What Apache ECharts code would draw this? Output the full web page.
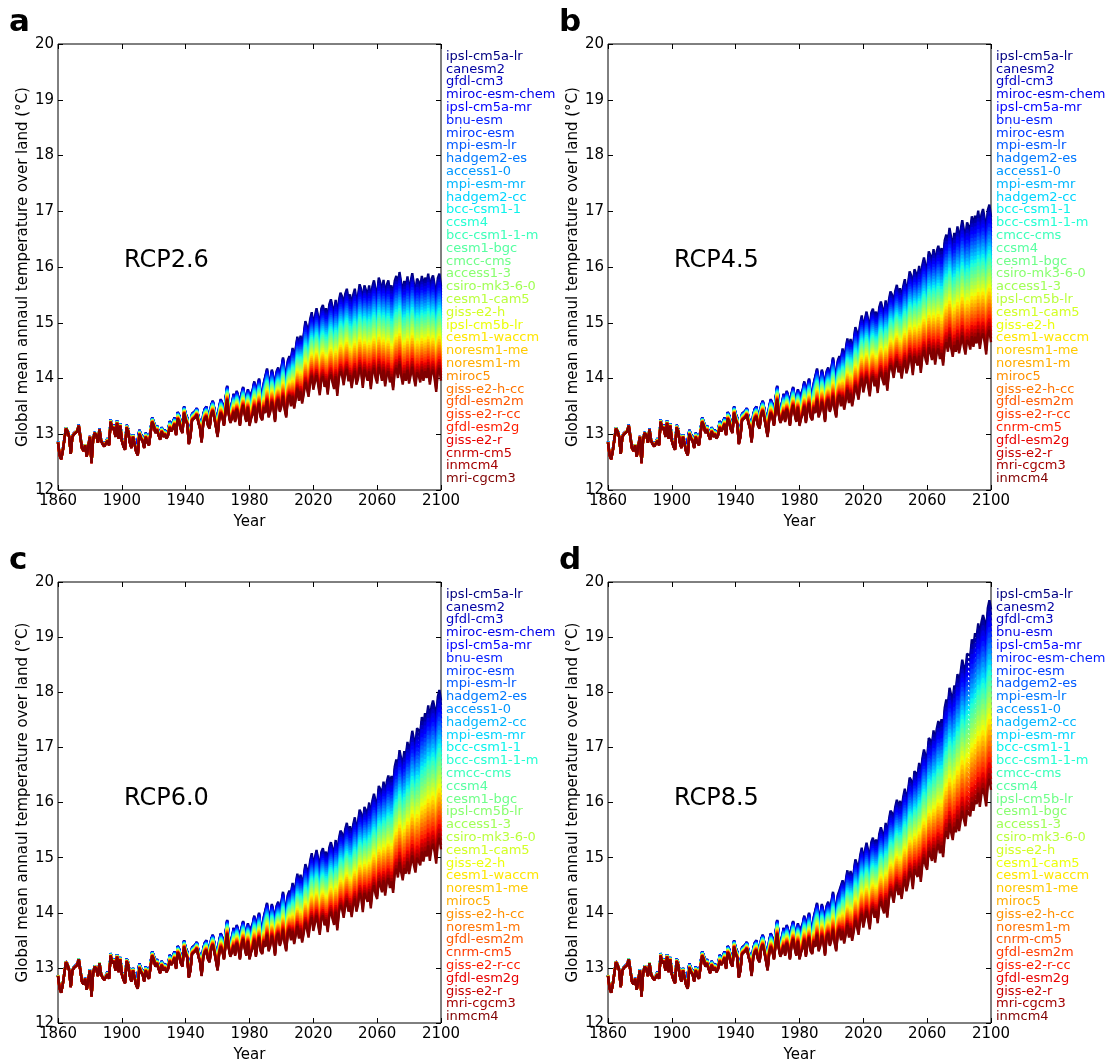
<!DOCTYPE html>
<html>
<head>
<meta charset="utf-8">
<script src="https://cdn.jsdelivr.net/npm/echarts@6/dist/echarts.min.js"></script>
<style>
  html, body { margin: 0; padding: 0; background: #fff; }
  #chart { width: 1112px; height: 1064px; }
</style>
</head>
<body>
<div id="chart"></div>
<script>
// years on the x axis
const years = [];
for (let y = 1860; y <= 2100; y++) years.push(y);

// historical run 1860-2005: coolest and warmest member of the ensemble
const histLow = [
  12.85,12.62,12.55,12.70,12.72,13.10,13.05,12.95,12.65,12.95,
  13.00,12.98,13.05,13.15,12.95,12.75,12.70,12.80,12.60,12.78,
  12.95,12.48,12.90,13.02,12.98,12.85,13.08,12.88,12.82,12.78,
  12.75,12.88,12.80,13.22,13.08,13.12,12.95,13.20,12.92,13.15,
  12.88,12.78,12.72,13.12,13.05,12.85,12.75,12.95,12.98,12.68,
  12.62,13.00,12.92,12.88,12.75,12.95,12.85,12.80,12.78,13.22,
  13.15,13.02,13.08,12.98,12.90,13.05,12.95,13.00,12.92,12.98,
  13.12,13.05,13.10,13.18,12.98,13.28,13.22,13.08,13.02,13.38,
  13.25,13.18,12.82,12.95,13.25,13.28,13.30,13.35,13.20,13.10,
  12.85,13.18,13.28,13.32,13.15,13.10,13.35,13.42,13.28,13.12,
  12.95,13.25,13.38,13.30,13.15,13.40,13.62,13.35,13.20,13.28,
  13.40,13.22,13.45,13.35,13.15,13.40,13.52,13.35,13.22,13.48,
  13.15,13.28,13.35,13.50,13.20,13.42,13.55,13.30,13.25,13.48,
  13.38,13.60,13.30,13.40,13.58,13.45,13.22,13.55,13.62,13.40,
  13.50,13.68,13.45,13.30,13.62,13.70
];
const histHigh = [
  12.87,12.64,12.57,12.72,12.74,13.12,13.07,12.97,12.67,12.97,
  13.02,13.00,13.07,13.17,12.97,12.77,12.72,12.82,12.62,12.80,
  12.97,12.50,12.92,13.04,13.00,12.87,13.10,12.90,12.84,12.80,
  12.80,12.93,12.85,13.27,13.13,13.17,13.00,13.25,12.97,13.20,
  12.93,12.83,12.77,13.17,13.10,12.90,12.80,13.00,13.03,12.73,
  12.70,13.08,13.00,12.96,12.83,13.03,12.93,12.88,12.86,13.30,
  13.23,13.10,13.16,13.06,12.98,13.13,13.03,13.08,13.00,13.06,
  13.24,13.17,13.22,13.30,13.10,13.40,13.34,13.20,13.14,13.50,
  13.37,13.30,12.94,13.07,13.37,13.40,13.42,13.47,13.32,13.22,
  13.03,13.36,13.46,13.50,13.33,13.28,13.53,13.60,13.46,13.30,
  13.20,13.50,13.63,13.55,13.40,13.65,13.87,13.60,13.45,13.53,
  13.73,13.55,13.78,13.68,13.48,13.73,13.85,13.68,13.55,13.81,
  13.60,13.73,13.80,13.95,13.65,13.87,14.00,13.75,13.70,13.93,
  13.96,14.18,13.88,13.98,14.16,14.03,13.80,14.13,14.20,13.98,
  14.20,14.38,14.15,14.00,14.32,14.40
];

// scenario runs 2006-2100
const rcp26Low = [
  13.50,13.68,13.46,13.64,13.82,13.60,13.77,13.55,13.72,13.93,
  13.82,13.67,13.93,14.05,13.80,13.94,14.06,13.89,13.70,13.98,
  14.04,13.85,13.96,13.71,14.00,14.07,13.93,13.81,14.04,13.69,
  14.00,14.13,14.06,13.88,14.09,14.17,13.95,14.06,13.83,14.03,
  14.14,13.89,13.99,14.20,14.10,13.83,14.16,14.06,13.96,14.13,
  13.81,14.09,14.19,14.01,13.91,14.21,14.11,13.96,14.16,13.86,
  14.06,14.13,13.93,14.03,13.79,14.11,14.19,14.01,14.26,14.06,
  13.89,14.09,13.96,14.16,13.91,14.06,14.21,14.01,13.86,14.11,
  14.06,13.93,14.16,13.96,14.13,14.01,14.19,13.89,14.09,14.16,
  13.99,13.76,14.11,14.19,13.96
];
const rcp26High = [
  14.35,14.55,14.35,14.55,14.75,14.56,14.77,14.58,14.79,15.03,
  14.93,14.79,15.06,15.19,14.95,15.11,15.26,15.11,14.94,15.25,
  15.32,15.14,15.26,15.03,15.33,15.42,15.28,15.18,15.41,15.08,
  15.39,15.54,15.47,15.31,15.52,15.61,15.40,15.51,15.29,15.50,
  15.61,15.37,15.48,15.69,15.60,15.33,15.67,15.58,15.49,15.67,
  15.36,15.65,15.76,15.59,15.50,15.81,15.71,15.57,15.77,15.48,
  15.68,15.76,15.56,15.67,15.43,15.75,15.84,15.66,15.91,15.72,
  15.55,15.75,15.63,15.83,15.58,15.74,15.89,15.69,15.54,15.79,
  15.74,15.61,15.84,15.64,15.81,15.70,15.88,15.58,15.78,15.85,
  15.68,15.45,15.80,15.88,15.65
];
const rcp45Low = [
  13.50,13.67,13.44,13.61,13.79,13.56,13.73,13.50,13.67,13.87,
  13.76,13.62,13.88,14.00,13.75,13.90,14.03,13.87,13.68,13.98,
  14.04,13.86,13.97,13.74,14.03,14.12,13.98,13.88,14.11,13.78,
  14.09,14.24,14.17,14.01,14.22,14.31,14.11,14.22,14.00,14.21,
  14.33,14.09,14.20,14.41,14.33,14.06,14.40,14.31,14.23,14.41,
  14.10,14.39,14.51,14.34,14.25,14.56,14.47,14.33,14.54,14.25,
  14.46,14.54,14.35,14.46,14.23,14.56,14.65,14.48,14.74,14.55,
  14.39,14.60,14.48,14.69,14.45,14.61,14.77,14.57,14.43,14.69,
  14.65,14.52,14.76,14.57,14.75,14.63,14.82,14.53,14.74,14.81,
  14.65,14.43,14.79,14.87,14.65
];
const rcp45High = [
  14.35,14.54,14.34,14.53,14.72,14.51,14.71,14.50,14.69,14.92,
  14.83,14.70,14.98,15.13,14.90,15.06,15.20,15.05,14.87,15.18,
  15.25,15.08,15.20,14.98,15.28,15.38,15.25,15.16,15.40,15.08,
  15.40,15.56,15.50,15.35,15.57,15.68,15.49,15.62,15.42,15.65,
  15.78,15.56,15.69,15.92,15.85,15.60,15.96,15.89,15.82,16.02,
  15.73,16.04,16.17,16.02,15.95,16.28,16.21,16.09,16.32,16.05,
  16.28,16.38,16.21,16.34,16.13,16.48,16.58,16.43,16.70,16.53,
  16.38,16.61,16.50,16.73,16.50,16.67,16.84,16.66,16.53,16.80,
  16.77,16.66,16.91,16.73,16.92,16.82,17.01,16.73,16.94,17.04,
  16.87,16.66,17.02,17.12,16.90
];
const rcp60Low = [
  13.50,13.67,13.43,13.60,13.76,13.53,13.69,13.46,13.63,13.82,
  13.71,13.55,13.81,13.92,13.67,13.81,13.95,13.78,13.60,13.89,
  13.95,13.77,13.88,13.65,13.94,14.02,13.89,13.78,14.02,13.68,
  13.99,14.14,14.07,13.91,14.12,14.22,14.02,14.13,13.92,14.14,
  14.26,14.02,14.14,14.36,14.28,14.01,14.36,14.28,14.20,14.38,
  14.08,14.38,14.50,14.33,14.25,14.57,14.50,14.37,14.59,14.31,
  14.54,14.63,14.45,14.57,14.36,14.70,14.80,14.64,14.92,14.74,
  14.59,14.81,14.71,14.93,14.70,14.87,15.04,14.86,14.73,15.00,
  14.97,14.86,15.11,14.93,15.12,15.02,15.22,14.94,15.16,15.25,
  15.10,14.89,15.26,15.36,15.15
];
const rcp60High = [
  14.35,14.54,14.33,14.52,14.71,14.50,14.69,14.48,14.66,14.88,
  14.79,14.66,14.94,15.08,14.85,15.00,15.14,14.98,14.80,15.10,
  15.17,14.99,15.11,14.88,15.18,15.28,15.16,15.07,15.32,15.00,
  15.33,15.49,15.44,15.29,15.52,15.63,15.44,15.57,15.37,15.60,
  15.73,15.51,15.64,15.87,15.80,15.56,15.92,15.86,15.79,16.00,
  15.71,16.03,16.16,16.02,15.95,16.30,16.24,16.14,16.38,16.13,
  16.37,16.49,16.33,16.48,16.28,16.65,16.78,16.65,16.95,16.80,
  16.68,16.93,16.85,17.10,16.90,17.10,17.30,17.15,17.05,17.35,
  17.35,17.27,17.55,17.40,17.62,17.54,17.76,17.50,17.74,17.85,
  17.72,17.53,17.92,18.04,17.85
];
const rcp85Low = [
  13.50,13.67,13.44,13.61,13.78,13.55,13.72,13.49,13.66,13.86,
  13.75,13.60,13.86,13.98,13.73,13.89,14.03,13.88,13.70,14.01,
  14.08,13.91,14.03,13.81,14.11,14.21,14.08,13.99,14.23,13.91,
  14.23,14.39,14.33,14.18,14.40,14.51,14.32,14.45,14.25,14.48,
  14.61,14.39,14.52,14.75,14.68,14.43,14.79,14.72,14.65,14.85,
  14.56,14.87,15.00,14.85,14.78,15.12,15.05,14.94,15.17,14.91,
  15.14,15.25,15.08,15.22,15.01,15.37,15.48,15.34,15.62,15.46,
  15.32,15.56,15.46,15.70,15.48,15.67,15.85,15.69,15.57,15.86,
  15.84,15.75,16.01,15.85,16.05,15.97,16.18,15.92,16.15,16.26,
  16.12,15.93,16.31,16.43,16.23
];
const rcp85High = [
  14.40,14.59,14.39,14.58,14.77,14.56,14.76,14.55,14.74,14.97,
  14.88,14.75,15.03,15.18,14.95,15.12,15.27,15.13,14.96,15.28,
  15.36,15.20,15.33,15.12,15.43,15.55,15.44,15.37,15.63,15.33,
  15.67,15.85,15.81,15.68,15.92,16.05,15.88,16.03,15.85,16.10,
  16.25,16.05,16.20,16.45,16.40,16.18,16.57,16.53,16.49,16.72,
  16.46,16.80,16.96,16.84,16.80,17.17,17.13,17.05,17.31,17.08,
  17.34,17.48,17.34,17.51,17.33,17.72,17.87,17.76,18.08,17.95,
  17.85,18.12,18.06,18.33,18.15,18.37,18.59,18.46,18.38,18.70,
  18.72,18.66,18.96,18.83,19.07,19.01,19.25,19.01,19.27,19.40,
  19.29,19.12,19.53,19.67,19.50
];

// models, warmest first (legend order)
const modelsA = ['ipsl-cm5a-lr','canesm2','gfdl-cm3','miroc-esm-chem','ipsl-cm5a-mr','bnu-esm','miroc-esm','mpi-esm-lr','hadgem2-es','access1-0','mpi-esm-mr','hadgem2-cc','bcc-csm1-1','ccsm4','bcc-csm1-1-m','cesm1-bgc','cmcc-cms','access1-3','csiro-mk3-6-0','cesm1-cam5','giss-e2-h','ipsl-cm5b-lr','cesm1-waccm','noresm1-me','noresm1-m','miroc5','giss-e2-h-cc','gfdl-esm2m','giss-e2-r-cc','gfdl-esm2g','giss-e2-r','cnrm-cm5','inmcm4','mri-cgcm3'];
const modelsB = ['ipsl-cm5a-lr','canesm2','gfdl-cm3','miroc-esm-chem','ipsl-cm5a-mr','bnu-esm','miroc-esm','mpi-esm-lr','hadgem2-es','access1-0','mpi-esm-mr','hadgem2-cc','bcc-csm1-1','bcc-csm1-1-m','cmcc-cms','ccsm4','cesm1-bgc','csiro-mk3-6-0','access1-3','ipsl-cm5b-lr','cesm1-cam5','giss-e2-h','cesm1-waccm','noresm1-me','noresm1-m','miroc5','giss-e2-h-cc','gfdl-esm2m','giss-e2-r-cc','cnrm-cm5','gfdl-esm2g','giss-e2-r','mri-cgcm3','inmcm4'];
const modelsC = ['ipsl-cm5a-lr','canesm2','gfdl-cm3','miroc-esm-chem','ipsl-cm5a-mr','bnu-esm','miroc-esm','mpi-esm-lr','hadgem2-es','access1-0','hadgem2-cc','mpi-esm-mr','bcc-csm1-1','bcc-csm1-1-m','cmcc-cms','ccsm4','cesm1-bgc','ipsl-cm5b-lr','access1-3','csiro-mk3-6-0','cesm1-cam5','giss-e2-h','cesm1-waccm','noresm1-me','miroc5','giss-e2-h-cc','noresm1-m','gfdl-esm2m','cnrm-cm5','giss-e2-r-cc','gfdl-esm2g','giss-e2-r','mri-cgcm3','inmcm4'];
const modelsD = ['ipsl-cm5a-lr','canesm2','gfdl-cm3','bnu-esm','ipsl-cm5a-mr','miroc-esm-chem','miroc-esm','hadgem2-es','mpi-esm-lr','access1-0','hadgem2-cc','mpi-esm-mr','bcc-csm1-1','bcc-csm1-1-m','cmcc-cms','ccsm4','ipsl-cm5b-lr','cesm1-bgc','access1-3','csiro-mk3-6-0','giss-e2-h','cesm1-cam5','cesm1-waccm','noresm1-me','miroc5','giss-e2-h-cc','noresm1-m','cnrm-cm5','gfdl-esm2m','giss-e2-r-cc','gfdl-esm2g','giss-e2-r','mri-cgcm3','inmcm4'];

const scenarioNames = ['RCP2.6', 'RCP4.5', 'RCP6.0', 'RCP8.5'];
const panelLetters = ['a', 'b', 'c', 'd'];

const panels = [
  { models: modelsA, low: rcp26Low, high: rcp26High, left: 58,  top: 44 },
  { models: modelsB, low: rcp45Low, high: rcp45High, left: 608, top: 44 },
  { models: modelsC, low: rcp60Low, high: rcp60High, left: 58,  top: 582 },
  { models: modelsD, low: rcp85Low, high: rcp85High, left: 608, top: 582 },
];

// matplotlib "jet"
function jet(t) {
  const seg = (pts) => {
    for (let j = 1; j < pts.length; j++) {
      if (t <= pts[j][0]) {
        const [x0, y0] = pts[j - 1], [x1, y1] = pts[j];
        return y0 + (y1 - y0) * (t - x0) / (x1 - x0);
      }
    }
    return pts[pts.length - 1][1];
  };
  const r = seg([[0, 0], [0.35, 0], [0.66, 1], [0.89, 1], [1, 0.5]]);
  const g = seg([[0, 0], [0.125, 0], [0.375, 1], [0.64, 1], [0.91, 0], [1, 0]]);
  const b = seg([[0, 0.5], [0.11, 1], [0.34, 1], [0.65, 0], [1, 0]]);
  return 'rgb(' + Math.round(r * 255) + ',' + Math.round(g * 255) + ',' + Math.round(b * 255) + ')';
}

const FONT = 'DejaVu Sans';
const W = 383, H = 446;

const grid = [], xAxis = [], yAxis = [], series = [], legend = [], title = [];

panels.forEach((p, pi) => {
  grid.push({ left: p.left, top: p.top, width: W, height: H, show: true,
    borderColor: '#000', borderWidth: 1, backgroundColor: 'transparent' });

  const tick = { show: true, inside: true, length: 5, lineStyle: { color: '#000' } };
  xAxis.push({
    type: 'value', gridIndex: pi, min: 1860, max: 2100, interval: 40,
    axisLine: { show: false }, axisTick: tick, splitLine: { show: false },
    axisLabel: { color: '#000', fontFamily: FONT, fontSize: 15, margin: 4, formatter: v => String(v) },
    name: 'Year', nameLocation: 'middle', nameGap: 25,
    nameTextStyle: { color: '#000', fontFamily: FONT, fontSize: 15 }
  });
  xAxis.push({
    type: 'value', gridIndex: pi, position: 'top', min: 1860, max: 2100, interval: 40,
    axisLine: { show: false }, axisTick: tick, axisLabel: { show: false }, splitLine: { show: false }
  });
  yAxis.push({
    type: 'value', gridIndex: pi, min: 12, max: 20, interval: 1,
    axisLine: { show: false }, axisTick: tick, splitLine: { show: false },
    axisLabel: { color: '#000', fontFamily: FONT, fontSize: 15, margin: 4 },
    name: 'Global mean annaul temperature over land (°C)', nameLocation: 'middle', nameGap: 27,
    nameTextStyle: { color: '#000', fontFamily: FONT, fontSize: 15 }
  });
  yAxis.push({
    type: 'value', gridIndex: pi, position: 'right', min: 12, max: 20, interval: 1,
    axisLine: { show: false }, axisTick: tick, axisLabel: { show: false }, splitLine: { show: false }
  });

  const n = p.models.length;
  const legendData = [];
  p.models.forEach((m, i) => {
    const color = jet(i / (n - 1));
    const w = 1 - i / (n - 1);
    const data = years.map((yr, k) => {
      const lo = k < histLow.length ? histLow[k] : p.low[k - histLow.length];
      const hi = k < histHigh.length ? histHigh[k] : p.high[k - histHigh.length];
      return [yr, +(lo + w * (hi - lo)).toFixed(3)];
    });
    series.push({
      type: 'line', name: m, xAxisIndex: pi * 2, yAxisIndex: pi * 2,
      data, showSymbol: false, symbol: 'none', silent: true,
      lineStyle: { color, width: 2.4 }, itemStyle: { color },
      emphasis: { disabled: true }
    });
    legendData.push({ name: m, icon: 'rect', textStyle: { color } });
  });

  legend.push({
    data: legendData, orient: 'vertical', left: p.left + W, top: p.top + 6,
    itemWidth: 0, itemHeight: 0, itemGap: -0.2, padding: 0, selectedMode: false,
    textStyle: { fontFamily: FONT, fontSize: 13, lineHeight: 13, padding: 0 }
  });

  title.push({
    text: panelLetters[pi], left: p.left - 49, top: p.top - 37, padding: 0,
    textStyle: { fontFamily: FONT, fontSize: 31, fontWeight: 'bold', color: '#000' }
  });
  title.push({
    text: scenarioNames[pi], left: p.left + 66, top: p.top + 205, padding: 0,
    textStyle: { fontFamily: FONT, fontSize: 24, fontWeight: 'normal', color: '#000' }
  });
});

const chart = echarts.init(document.getElementById('chart'), null, { renderer: 'canvas' });
chart.setOption({
  animation: false,
  backgroundColor: '#fff',
  title, grid, xAxis, yAxis, legend, series
});
</script>
</body>
</html>
